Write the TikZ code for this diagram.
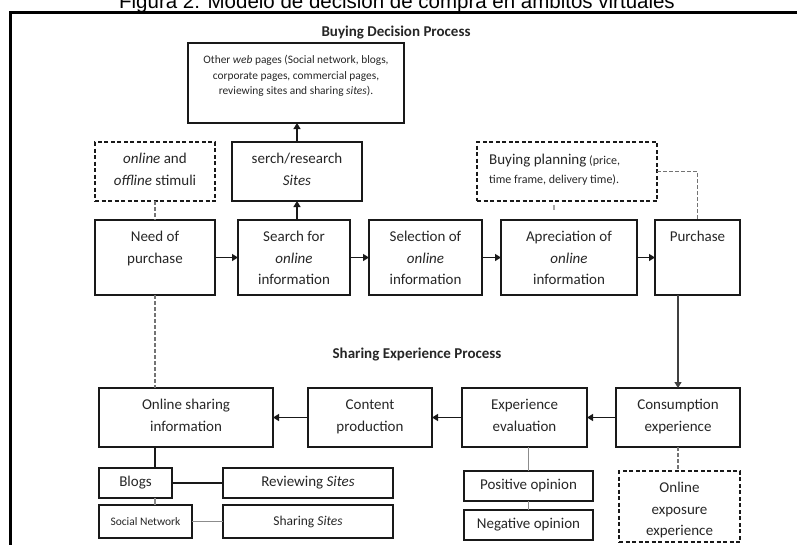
\documentclass[tikz,border=0pt]{standalone}
\usepackage{fontspec}
\setmainfont{Carlito}
\newfontfamily\titlefont{Liberation Sans}
\usetikzlibrary{arrows.meta,calc}

\tikzset{
  box/.style={draw=black!90, line width=1.2pt, inner sep=0pt, outer sep=0pt, text=black!85,
              font=\fontsize{15}{21.5}\selectfont},
  dbox/.style={box, dash pattern=on 4pt off 2.5pt},
  txt/.style={inner sep=0pt, align=center, text=black!85, font=\fontsize{15}{21.5}\selectfont},
  smalltxt/.style={txt, font=\fontsize{11.4}{15.5}\selectfont},
  head/.style={inner sep=0pt, text=black!85, font=\bfseries\fontsize{15}{18}\selectfont},
  arr/.style={line width=1.2pt, draw=black!90, -{Triangle[length=6pt,width=7pt]}},
  conn/.style={line width=1.2pt, draw=black!90},
  gconn/.style={line width=1.2pt, draw=black!45},
  dconn/.style={line width=1.2pt, draw=black!55, dash pattern=on 3.5pt off 2.5pt},
}

% style, name, x1, y1, x2, y2, text
\newcommand\boxnode[7]{%
  \node[#1, minimum width={(#5-#3)*1pt}, minimum height={(#6-#4)*1pt}] (#2)
    at ({(#3+#5)/2},{(#4+#6)/2}) {#7};}

\begin{document}
\begin{tikzpicture}[x=1pt,y=-1pt]
\useasboundingbox (0,0) rectangle (797,544);
\clip (0,0) rectangle (797,544);

% figure title (cut at top) and frame
\node[anchor=base, inner sep=0pt, font=\titlefont\fontsize{20.5}{24}\selectfont] (title)
  at (397,8) {Figura 2: Modelo de decisión de compra en ámbitos virtuales};
\draw[line width=2.5pt] (10.5,600) -- (10.5,12.5) -- (820,12.5);

% section headings
\node[head] (bdp) at (396,33) {Buying Decision Process};
\node[head] (sep) at (417,355) {Sharing Experience Process};

% ---------- Buying decision process ----------
\boxnode{box}{other}{188}{43}{404}{123}{}
\node[smalltxt, anchor=north] (other-t) at ([yshift=-9.6pt]other.north)
  {\strut Other \emph{web} pages (Social network, blogs,\\corporate pages, commercial pages,\\reviewing sites and sharing \emph{sites}).};

\boxnode{box}{sr}{232}{142}{362}{201}{}
\node[txt, anchor=north] (sr-t) at ([yshift=-6.4pt]sr.north) {\strut serch/research\\\emph{Sites}};

\boxnode{dbox}{stim}{95}{142}{215}{201}{}
\node[txt, anchor=north] (stim-t) at ([yshift=-6.4pt]stim.north) {\strut\emph{online} and\\\emph{offline} stimuli};

\boxnode{dbox}{bp}{477}{142}{657}{201}{}
\node[inner sep=0pt, align=left, text=black!85, font=\fontsize{12}{19}\selectfont, anchor=north west] (bp-t)
  at ([xshift=12pt,yshift=-8.7pt]bp.north west)
  {\strut{\fontsize{15}{19}\selectfont Buying planning} (price,\\time frame, delivery time).};

\boxnode{box}{need}{95}{220}{215}{295}{}
\node[txt, anchor=north] (need-t) at ([yshift=-6.4pt]need.north) {\strut Need of\\purchase};

\boxnode{box}{search}{238}{220}{350}{295}{}
\node[txt, anchor=north] (search-t) at ([yshift=-6.4pt]search.north) {\strut Search for\\\emph{online}\\information};

\boxnode{box}{sel}{369}{220}{482}{295}{}
\node[txt, anchor=north] (sel-t) at ([yshift=-6.4pt]sel.north) {\strut Selection of\\\emph{online}\\information};

\boxnode{box}{apr}{501}{220}{637}{295}{}
\node[txt, anchor=north] (apr-t) at ([yshift=-6.4pt]apr.north) {\strut Apreciation of\\\emph{online}\\information};

\boxnode{box}{pur}{655}{220}{740}{295}{}
\node[txt, anchor=north] (pur-t) at ([yshift=-6.4pt]pur.north) {\strut Purchase};

% ---------- Sharing experience process ----------
\boxnode{box}{osi}{99}{388}{273}{447}{}
\node[txt, anchor=north] (osi-t) at ([yshift=-6.4pt]osi.north) {\strut Online sharing\\information};

\boxnode{box}{cp}{308}{388}{432}{447}{}
\node[txt, anchor=north] (cp-t) at ([yshift=-6.4pt]cp.north) {\strut Content\\production};

\boxnode{box}{ee}{462}{388}{587}{447}{}
\node[txt, anchor=north] (ee-t) at ([yshift=-6.4pt]ee.north) {\strut Experience\\evaluation};

\boxnode{box}{ce}{616}{388}{740}{447}{}
\node[txt, anchor=north] (ce-t) at ([yshift=-6.4pt]ce.north) {\strut Consumption\\experience};

\boxnode{dbox}{exp}{619}{471}{740}{542}{}
\node[txt, anchor=north] (exp-t) at ([yshift=-6.4pt]exp.north) {\strut Online\\exposure\\experience};

\boxnode{box}{blogs}{99}{468}{172}{498}{Blogs}
\boxnode{box}{rev}{223}{468}{393}{498}{Reviewing \emph{Sites}}
\boxnode{box, font=\fontsize{11.5}{14}\selectfont}{soc}{99}{505}{192}{538}{Social Network}
\boxnode{box, font=\fontsize{13.5}{16}\selectfont}{shs}{223}{505}{393}{538}{Sharing \emph{Sites}}
\boxnode{box}{pos}{464}{471}{593}{501}{Positive opinion}
\boxnode{box}{neg}{464}{510}{593}{540}{Negative opinion}

% ---------- connectors ----------
\draw[arr] (sr.north) -- (sr.north |- other.south);
\draw[arr] (sr.south |- search.north) -- (sr.south);
\draw[dconn] (stim.south) -- (stim.south |- need.north);
\draw[dconn] (need.south) -- (need.south |- osi.north);
\draw[arr] (need.east) -- (search.west);
\draw[arr] (search.east) -- (sel.west);
\draw[arr] (sel.east) -- (apr.west);
\draw[arr] (apr.east) -- (pur.west);
\draw[dconn] (bp.east) -| (pur.north);
\draw[line width=1.2pt, draw=black!35, dash pattern=on 0pt off 4pt on 5pt off 30pt]
  ([xshift=-13pt]bp.south) -- ([xshift=-13pt]bp.south |- apr.north);

\draw[arr, draw=black!75] (ce.north |- pur.south) -- (ce.north);
\draw[arr] (ce.west) -- (ee.east);
\draw[arr] (ee.west) -- (cp.east);
\draw[arr] (cp.west) -- (osi.east);
\draw[dconn] (ce.south) -- (ce.south |- exp.north);

\draw[conn] (need.south |- osi.south) -- (need.south |- blogs.north);
\draw[gconn] (need.south |- blogs.south) -- (need.south |- soc.north);
\draw[conn] (blogs.east) -- (rev.west);
\draw[gconn] (soc.east) -- (shs.west);
\draw[gconn] (pos.north |- ee.south) -- (pos.north);
\draw[gconn] (pos.south) -- (neg.north);
\end{tikzpicture}
\end{document}
